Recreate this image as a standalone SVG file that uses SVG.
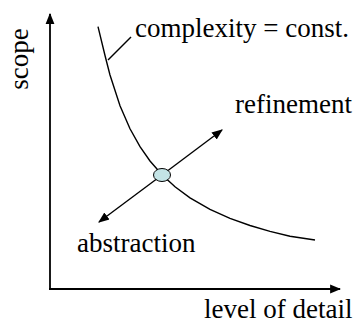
<svg xmlns="http://www.w3.org/2000/svg" width="358" height="327" viewBox="0 0 358 327">
<defs>
<marker id="ah" viewBox="0 0 10 10" refX="9" refY="5" markerWidth="11" markerHeight="11" markerUnits="userSpaceOnUse" orient="auto">
<path d="M0,1 L10,5 L0,9 Z" fill="#000"/>
</marker>
</defs>
<style>
text{font-family:'Liberation Serif','Times New Roman',serif;font-size:27px;fill:#000}
.ax{stroke:#000;stroke-width:1.8;fill:none}
.ln{stroke:#000;stroke-width:1.4;fill:none}
</style>
<rect width="358" height="327" fill="#fff"/>
<g id="connectors">
<path class="ax" d="M50,289 L50,14" marker-end="url(#ah)"/>
<path class="ax" d="M49,289 L340,289" marker-end="url(#ah)"/>
<path class="ln" d="M98,26.7 L105,55.5 L110,75 L120,105.7 L130,128.75 L140,146.7 L150,161 L162,174.8 L175,186.8 L190,197.9 L210,209.4 L230,218.3 L250,225.5 L270,231.4 L290,236.3 L315,240"/>
<path class="ln" d="M108,60 L131,37"/>
<path class="ln" d="M162,175 L99,222" marker-end="url(#ah)"/>
<path class="ln" d="M162,175 L222,130" marker-end="url(#ah)"/>
</g>
<g id="node-point">
<ellipse cx="162" cy="175" rx="8.5" ry="6.5" fill="#c4e4e6" stroke="#000" stroke-width="1"/>
</g>
<g id="label-scope"><text transform="translate(28,59) rotate(-90)" text-anchor="middle">scope</text></g>
<g id="label-complexity"><text x="135" y="37">complexity = const.</text></g>
<g id="label-refinement"><text x="235" y="113">refinement</text></g>
<g id="label-abstraction"><text x="77" y="252">abstraction</text></g>
<g id="label-level"><text x="204" y="318">level of detail</text></g>
</svg>
